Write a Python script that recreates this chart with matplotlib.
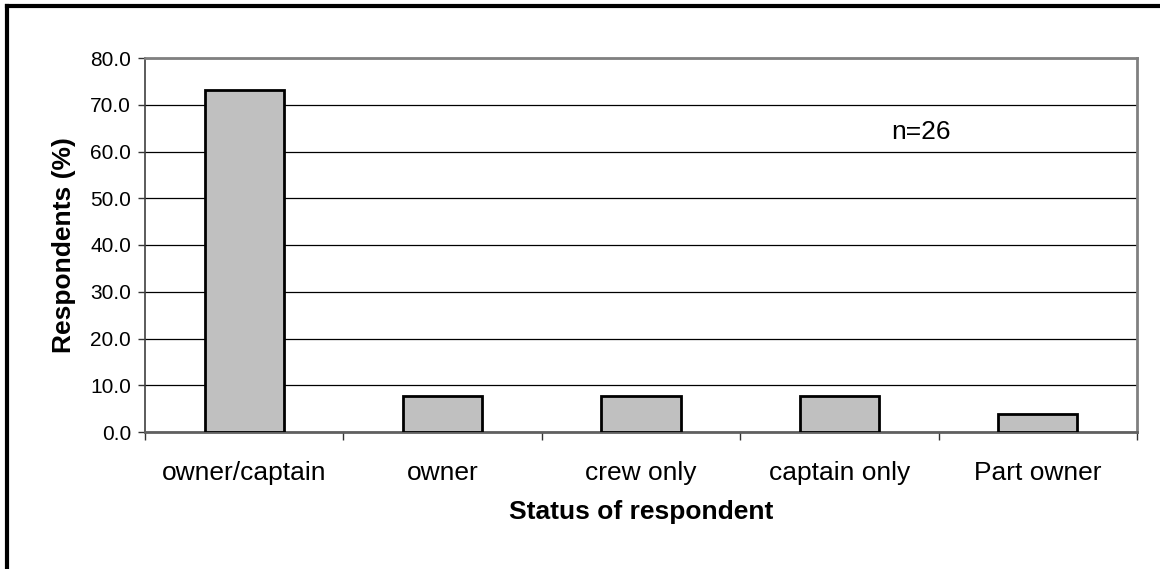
import matplotlib.pyplot as plt
from matplotlib.lines import Line2D

plt.rcParams['font.family'] = ['Liberation Sans', 'DejaVu Sans']

categories = ["owner/captain", "owner", "crew only", "captain only", "Part owner"]
percent = [73.1, 7.7, 7.7, 7.7, 3.8]
yticks = [0, 10, 20, 30, 40, 50, 60, 70, 80]

fig = plt.figure(figsize=(11.6, 5.69), dpi=100)
ax = fig.add_axes([145 / 1160, 1 - 432 / 569, (1137 - 145) / 1160, (432 - 58) / 569])

x = range(len(categories))
ax.bar(x, percent, width=0.4, color='#c0c0c0', edgecolor='black', linewidth=2, zorder=3)

ax.set_xlim(-0.5, len(categories) - 0.5)
ax.set_ylim(0, 80)
ax.set_yticks(yticks)
ax.set_yticklabels(["%.1f" % v for v in yticks], fontsize=15)
ax.yaxis.grid(True, color='black', linewidth=0.9, zorder=0)

# category labels centred, ticks on the boundaries
ax.set_xticks([i - 0.5 for i in range(len(categories) + 1)])
ax.set_xticklabels([])
ax.set_xticks(list(x), minor=True)
ax.set_xticklabels(categories, minor=True, fontsize=19)
ax.tick_params(axis='x', which='minor', length=0, pad=21)
ax.tick_params(axis='x', which='major', length=6, width=1, color='#333333', direction='out')
ax.tick_params(axis='y', length=5, width=1, color='#333333', direction='out', pad=5)

for s in ['top', 'right']:
    ax.spines[s].set_color('#808080')
    ax.spines[s].set_linewidth(2)
ax.spines['left'].set_color('#404040')
ax.spines['bottom'].set_color('#606060')
ax.spines['left'].set_linewidth(1.2)
ax.spines['bottom'].set_linewidth(2)

ax.set_ylabel("Respondents (%)", fontsize=19, fontweight='bold', labelpad=10)
ax.set_xlabel("Status of respondent", fontsize=19, fontweight='bold', labelpad=11)
ax.text(3.26, 64.2, "n=26", fontsize=19, va='center')

# outer frame (left and top only visible)
fig.add_artist(Line2D([7 / 1160, 7 / 1160], [0, 1 - 6 / 569], color='black', linewidth=3, transform=fig.transFigure))
fig.add_artist(Line2D([7 / 1160, 1], [1 - 6 / 569, 1 - 6 / 569], color='black', linewidth=3, transform=fig.transFigure))

fig.savefig("out.png", dpi=100)
